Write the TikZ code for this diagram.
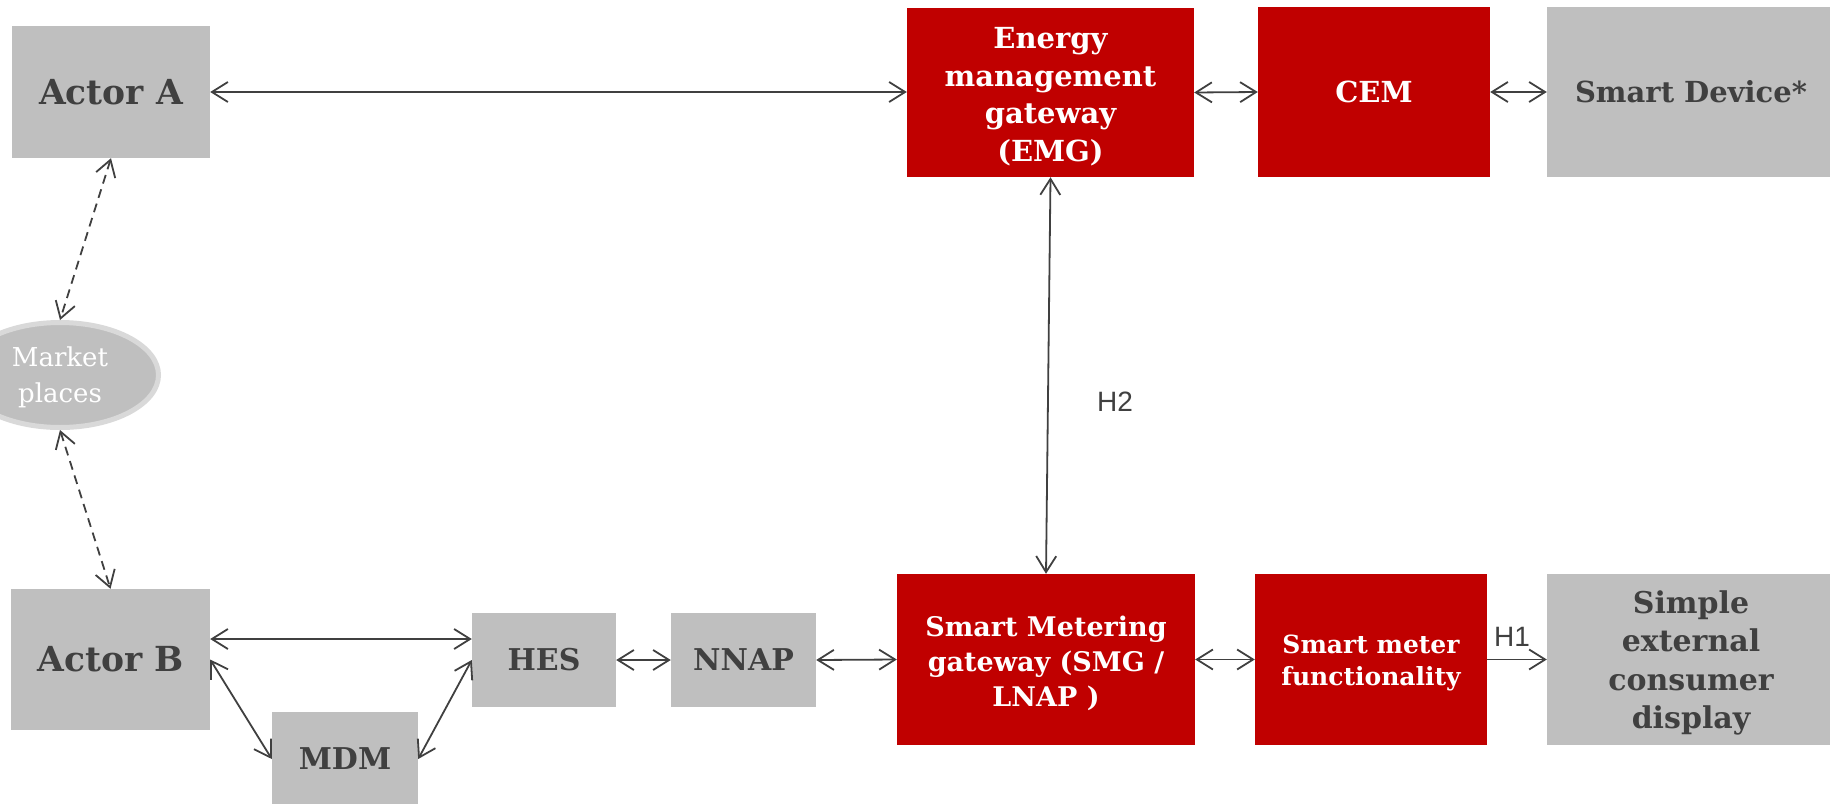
\documentclass[tikz,border=0pt]{standalone}
\usepackage{fontspec}
\setmainfont{DejaVu Serif}
\newfontfamily\hfont{Liberation Sans}
\usetikzlibrary{arrows.meta,shapes.geometric,calc}
\definecolor{boxred}{RGB}{192,0,0}
\definecolor{boxgray}{RGB}{191,191,191}
\definecolor{txtgray}{RGB}{64,64,64}
\definecolor{rimgray}{RGB}{217,217,217}
\definecolor{arrgray}{RGB}{64,64,64}
\newcommand{\lowtext}[2]{\raisebox{-#1}[\height][\depth]{\begin{tabular}{@{}c@{}}#2\end{tabular}}}
\tikzset{
  box/.style={rectangle, inner sep=0pt, align=center},
  redbox/.style={box, fill=boxred, text=white},
  graybox/.style={box, fill=boxgray, text=txtgray},
  link/.style={draw=arrgray, line width=1.8pt},
  dlink/.style={link, dash pattern=on 9pt off 6pt},
  hlabel/.style={text=txtgray, font=\hfont\fontsize{28}{30}\selectfont, inner sep=0pt},
  >={Straight Barb[length=16pt,width=20pt]}
}
\begin{document}
\begin{tikzpicture}[x=1pt,y=-1pt]
\useasboundingbox (0,0) rectangle (1830,803);
% top row
\node[graybox, minimum width=198pt, minimum height=132pt, font=\fontsize{34.5}{40}\selectfont\bfseries] (actA) at (111,92) {Actor A};
\node[redbox, minimum width=287pt, minimum height=169pt, font=\fontsize{29}{37.7}\selectfont\bfseries] (emg) at (1050.5,92.5) {\lowtext{5pt}{Energy\\management\\gateway\\(EMG)}};
\node[redbox, minimum width=232pt, minimum height=170pt, font=\fontsize{29}{35}\selectfont\bfseries] (cem) at (1374,92) {CEM};
\node[graybox, minimum width=288pt, minimum height=170pt, font=\fontsize{29}{35}\selectfont\bfseries] (dev) at (1691,92) {Smart Device*};
% market places
\node[ellipse, fill=boxgray, draw=rimgray, line width=5pt, minimum width=197pt, minimum height=105pt, inner sep=0pt, text=white, align=center, font=\fontsize{26}{36}\selectfont] (mp) at (60,375) {\lowtext{2pt}{Market\\places}};
% bottom row
\node[graybox, minimum width=199pt, minimum height=141pt, font=\fontsize{34.5}{40}\selectfont\bfseries] (actB) at (110.5,659.5) {Actor B};
\node[graybox, minimum width=144pt, minimum height=94pt, font=\fontsize{30}{36}\selectfont\bfseries] (hes) at (544,660) {HES};
\node[graybox, minimum width=145pt, minimum height=94pt, font=\fontsize{30}{36}\selectfont\bfseries] (nnap) at (743.5,660) {NNAP};
\node[graybox, minimum width=146pt, minimum height=94pt, font=\fontsize{30}{36}\selectfont\bfseries] (mdm) at (345,759) {MDM};
\node[redbox, minimum width=298pt, minimum height=171pt, font=\fontsize{27}{35}\selectfont\bfseries] (smg) at (1046,659.5) {\lowtext{5pt}{Smart Metering\\gateway (SMG /\\LNAP )}};
\node[redbox, minimum width=232pt, minimum height=171pt, font=\fontsize{25}{32}\selectfont\bfseries] (smf) at (1371,659.5) {\lowtext{4pt}{Smart meter\\functionality}};
\node[graybox, minimum width=288pt, minimum height=171pt, font=\fontsize{30}{38.5}\selectfont\bfseries] (disp) at (1691,659.5) {\lowtext{4pt}{Simple\\external\\consumer\\display}};
% labels
\node[hlabel] (h2) at (1115,402) {H2};
\node[hlabel] (h1) at (1512,637) {H1};
% connectors
\draw[link,<->] (actA.east) -- (actA.east -| emg.west);
\draw[link,<->] (emg.east) -- (cem.west);
\draw[link,<->] (cem.east) -- (dev.west);
\draw[link,<->] (emg.south) -- (smg.north);
\draw[dlink,<->] (actA.south) -- (mp.north);
\draw[dlink,<->] (mp.south) -- (actB.north);
\coordinate (ab) at ([yshift=20.5pt]actB.east);
\draw[link,<->] (ab) -- (ab -| hes.west);
\draw[link,<->] (actB.east) -- (mdm.west);
\draw[link,<->] (mdm.east) -- (hes.west);
\draw[link,<->] (hes.east) -- (nnap.west);
\draw[link,<->] (nnap.east) -- (smg.west);
\draw[link,<->] (smg.east) -- (smf.west);
\draw[link,->] (smf.east) -- (disp.west);
\end{tikzpicture}
\end{document}
